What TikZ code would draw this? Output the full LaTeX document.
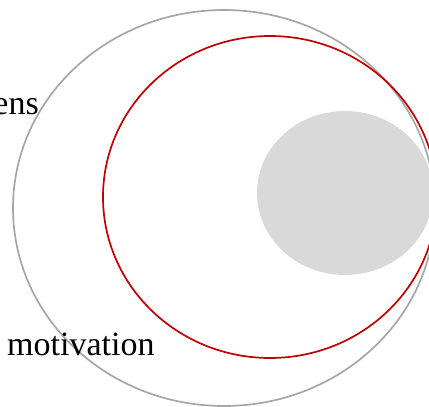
\documentclass[tikz,border=0pt]{standalone}
\usepackage{fontspec}
\setmainfont{Liberation Serif}
\usepackage{tikz}
\definecolor{ringgray}{HTML}{A6A6A6}
\definecolor{ringred}{HTML}{C00000}
\definecolor{blobgray}{HTML}{D9D9D9}
\tikzset{
  outerring/.style={draw=ringgray,line width=1.7pt},
  innerring/.style={draw=ringred,line width=1.7pt},
  core/.style={fill=blobgray,draw=none},
  lbl/.style={font=\fontsize{34}{37}\selectfont,inner sep=0pt},
}

\begin{document}
\begin{tikzpicture}[x=1pt,y=-1pt]
  \useasboundingbox (0,0) rectangle (429,407);
  \path[outerring] (224,208) ellipse [x radius=211,y radius=198];
  \path[innerring] (270,197) ellipse [x radius=167,y radius=161];
  \path[core] (345,193) ellipse [x radius=88,y radius=82];

  \node[lbl,anchor=base east] (outer) at (39,114) {ens};
  \node[lbl,anchor=base west] (inner) at (7,355) {motivation};
\end{tikzpicture}
\end{document}
